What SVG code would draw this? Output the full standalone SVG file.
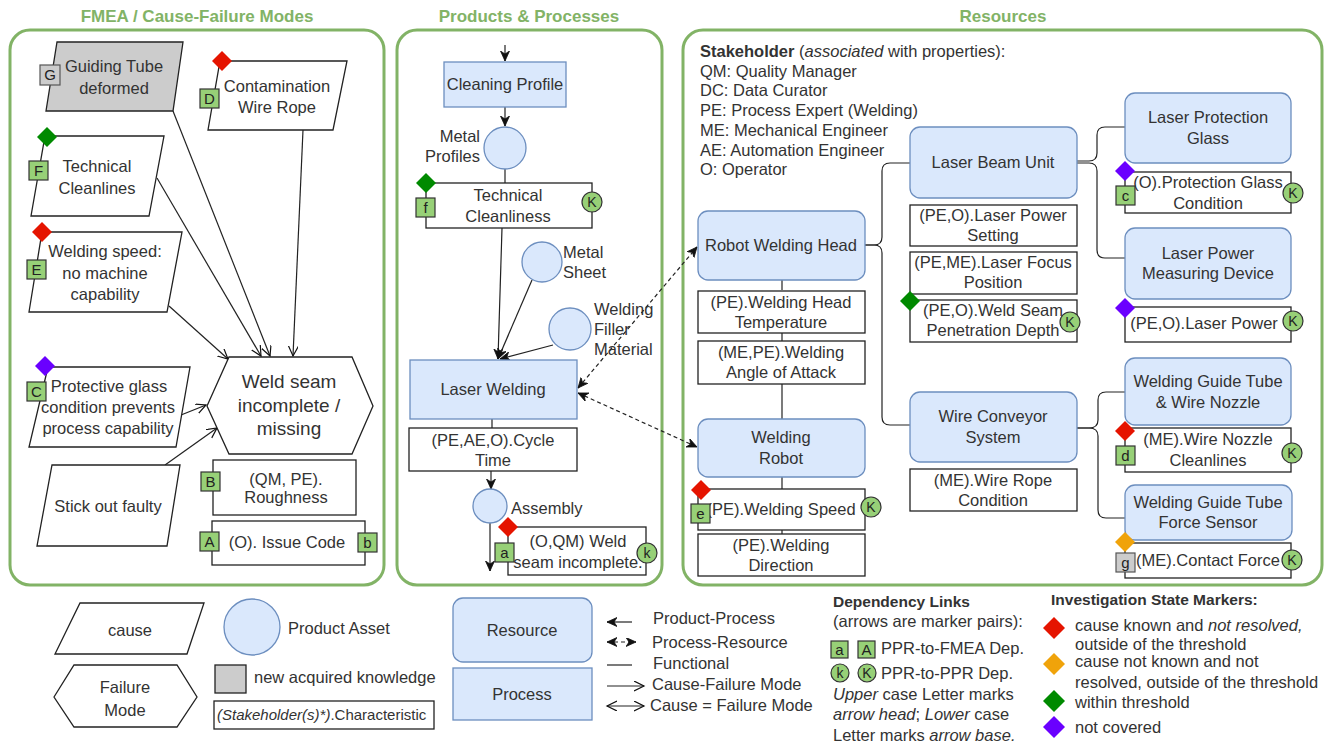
<svg xmlns="http://www.w3.org/2000/svg" width="1336" height="747" viewBox="0 0 1336 747">
<defs>
<style>
text{font-family:"Liberation Sans",Arial,sans-serif;font-size:16.5px;fill:#333}
.c{text-anchor:middle}
.e{text-anchor:end}
.title{font-weight:bold;font-size:17px;fill:#82b366;text-anchor:middle}
.b{font-weight:bold}
.hdr{font-weight:bold;font-size:15.5px}
.i{font-style:italic}
.big{font-size:19px}
.sm{font-size:15px}
.panel{fill:#fff;stroke:#82b366;stroke-width:3}
.res{fill:#dae8fc;stroke:#6c8ebf;stroke-width:1.3}
.box{fill:#fff;stroke:#222;stroke-width:1.3}
.gray{fill:#cccccc;stroke:#222;stroke-width:1.3}
.ln{stroke:#222;fill:none;stroke-width:1.2}
.dash{stroke-dasharray:4 3}
.sq{fill:#97d077;stroke:#333;stroke-width:1.2}
.gsq{fill:#cccccc;stroke:#555;stroke-width:1.2}
.lt{font-size:15px;text-anchor:middle;fill:#222}
.red{fill:#e51400}
.org{fill:#f0a30a}
.grn{fill:#008a00}
.pur{fill:#6a00ff}
</style>
<marker id="af" markerUnits="userSpaceOnUse" markerWidth="12" markerHeight="10" refX="10" refY="4.5" orient="auto-start-reverse"><path d="M0,0 L10,4.5 L0,9 L3,4.5 Z" fill="#111" stroke="#111" stroke-width="0.8"/></marker>
<marker id="ao" markerUnits="userSpaceOnUse" markerWidth="12" markerHeight="12" refX="10" refY="5" orient="auto-start-reverse"><path d="M0,0 L10,5 L0,10" fill="none" stroke="#111" stroke-width="1.2"/></marker>
<path id="dia" d="M0,-10 L10,0 L0,10 L-10,0 Z"/>
<path id="diaL" d="M0,-11 L11,0 L0,11 L-11,0 Z"/>
</defs>
<rect width="1336" height="747" fill="#fff"/>

<g id="panels">
<rect class="panel" x="10" y="30" width="374" height="555" rx="20"/>
<rect class="panel" x="397" y="30" width="265" height="555" rx="20"/>
<rect class="panel" x="683" y="30" width="639" height="555" rx="20"/>
<text class="title" x="197" y="22">FMEA / Cause-Failure Modes</text>
<text class="title" x="529" y="22">Products &amp; Processes</text>
<text class="title" x="1003" y="22">Resources</text>
</g>

<g id="connectors">
<line class="ln" x1="173" y1="111" x2="270" y2="356" marker-end="url(#ao)"/>
<line class="ln" x1="157" y1="178" x2="261" y2="356" marker-end="url(#ao)"/>
<line class="ln" x1="303" y1="130" x2="293" y2="356" marker-end="url(#ao)"/>
<line class="ln" x1="169" y1="306" x2="228" y2="359" marker-end="url(#ao)"/>
<line class="ln" x1="181" y1="415" x2="206" y2="405" marker-end="url(#ao)"/>
<line class="ln" x1="165" y1="465" x2="217" y2="428" marker-end="url(#ao)"/>
<line class="ln" x1="505" y1="45" x2="505" y2="61" marker-end="url(#af)"/>
<line class="ln" x1="505" y1="107" x2="505" y2="126" marker-end="url(#af)"/>
<line class="ln" x1="505" y1="169" x2="505" y2="183"/>
<line class="ln" x1="502" y1="228" x2="498" y2="359" marker-end="url(#af)"/>
<line class="ln" x1="532" y1="280" x2="498" y2="359" marker-end="url(#af)"/>
<line class="ln" x1="553" y1="345" x2="500" y2="359" marker-end="url(#af)"/>
<line class="ln" x1="492" y1="419" x2="492" y2="428"/>
<line class="ln" x1="491" y1="471" x2="491" y2="489" marker-end="url(#af)"/>
<line class="ln" x1="490" y1="523" x2="490" y2="571" marker-end="url(#af)"/>
<line class="ln dash" x1="578" y1="388" x2="697" y2="247" marker-start="url(#af)" marker-end="url(#af)"/>
<line class="ln dash" x1="578" y1="393" x2="697" y2="447" marker-start="url(#af)" marker-end="url(#af)"/>
<line class="ln" x1="782" y1="280" x2="782" y2="290"/>
<line class="ln" x1="782" y1="333" x2="782" y2="341"/>
<line class="ln" x1="782" y1="384" x2="782" y2="419"/>
<line class="ln" x1="782" y1="477" x2="782" y2="489"/>
<line class="ln" x1="782" y1="530" x2="782" y2="534"/>
<path class="ln" d="M865,245 H874 Q882,245 882,237 V171 Q882,163 890,163 H910"/>
<path class="ln" d="M865,245 H874 Q882,245 882,253 V417 Q882,425 890,425 H910"/>
<path class="ln" d="M1077,161 H1089 Q1097,161 1097,153 V135 Q1097,127 1105,127 H1125"/>
<path class="ln" d="M1077,163 H1089 Q1097,163 1097,171 V250 Q1097,258 1105,258 H1125"/>
<path class="ln" d="M1077,428 H1089 Q1098,428 1098,420 V400 Q1098,392 1106,392 H1125"/>
<path class="ln" d="M1077,428 H1089 Q1098,428 1098,436 V510 Q1098,518 1106,518 H1125"/>
</g>

<g id="fmea-guiding-tube">
<polygon class="gray" points="57,42 183,42 173,111 46,111"/>
<text class="c" x="114" y="72">Guiding Tube</text>
<text class="c" x="114" y="94">deformed</text>
<rect class="gsq" x="40" y="65" width="20" height="20"/><text class="lt" x="50" y="80">G</text>
</g>
<g id="fmea-contamination">
<polygon class="box" points="220,61 347,61 333,130 208,130"/>
<text class="c" x="277" y="92">Contamination</text>
<text class="c" x="277" y="113">Wire Rope</text>
<use href="#dia" x="222" y="61" class="red"/>
<rect class="sq" x="200" y="89" width="19" height="19"/><text class="lt" x="209.5" y="104">D</text>
</g>
<g id="fmea-tech-cleanlines">
<polygon class="box" points="45,136 164,136 149,216 31,216"/>
<text class="c" x="97" y="172">Technical</text>
<text class="c" x="97" y="194">Cleanlines</text>
<use href="#dia" x="47" y="137" class="grn"/>
<rect class="sq" x="29" y="161" width="19" height="19"/><text class="lt" x="38.5" y="176">F</text>
</g>
<g id="fmea-welding-speed">
<polygon class="box" points="42,232 182,232 167,312 29,312"/>
<text class="c" x="105" y="257">Welding speed:</text>
<text class="c" x="105" y="279">no machine</text>
<text class="c" x="105" y="300">capability</text>
<use href="#dia" x="42" y="232" class="red"/>
<rect class="sq" x="27" y="260" width="19" height="19"/><text class="lt" x="36.5" y="275">E</text>
</g>
<g id="fmea-protective-glass">
<polygon class="box" points="48,367 190,367 176,447 29,447"/>
<text class="c" x="109" y="392">Protective glass</text>
<text class="c" x="108" y="413">condition prevents</text>
<text class="c" x="108" y="434">process capability</text>
<use href="#dia" x="45" y="366" class="pur"/>
<rect class="sq" x="27" y="382" width="19" height="19"/><text class="lt" x="36.5" y="397">C</text>
</g>
<g id="fmea-stick-out">
<polygon class="box" points="52,465 180,465 167,546 37,546"/>
<text class="c" x="108" y="512">Stick out faulty</text>
</g>
<g id="fmea-weld-seam">
<polygon class="box" points="207,406 229,357 352,357 373,406 352,454 229,454"/>
<text class="c big" x="289" y="388">Weld seam</text>
<text class="c big" x="289" y="412">incomplete /</text>
<text class="c big" x="289" y="435">missing</text>
</g>
<g id="fmea-roughness">
<rect class="box" x="213" y="460" width="143" height="55"/>
<text class="c" x="286" y="485">(QM, PE).</text>
<text class="c" x="286" y="503">Roughness</text>
<rect class="sq" x="201" y="472" width="19" height="19"/><text class="lt" x="210.5" y="487">B</text>
</g>
<g id="fmea-issue-code">
<rect class="box" x="212" y="521" width="153" height="44"/>
<text class="c" x="287" y="548">(O). Issue Code</text>
<rect class="sq" x="200" y="532" width="19" height="19"/><text class="lt" x="209.5" y="547">A</text>
<rect class="sq" x="358" y="533" width="19" height="19"/><text class="lt" x="367.5" y="548">b</text>
</g>

<g id="pp-cleaning-profile">
<rect class="res" x="444" y="62" width="122" height="45"/>
<text class="c" x="505" y="90">Cleaning Profile</text>
</g>
<g id="pp-metal-profiles">
<circle class="res" cx="505" cy="148" r="21"/>
<text class="e" x="480" y="142">Metal</text>
<text class="e" x="480" y="162">Profiles</text>
</g>
<g id="pp-tech-cleanliness">
<rect class="box" x="426" y="183" width="166" height="45"/>
<text class="c" x="508" y="201">Technical</text>
<text class="c" x="508" y="222">Cleanliness</text>
<use href="#dia" x="426" y="183" class="grn"/>
<rect class="sq" x="416" y="198" width="19" height="19"/><text class="lt" x="425.5" y="213">f</text>
<circle class="sq" cx="592" cy="202" r="10"/><text class="lt" x="592" y="207" style="font-size:14px">K</text>
</g>
<g id="pp-metal-sheet">
<circle class="res" cx="542" cy="262" r="20"/>
<text x="563" y="258">Metal</text>
<text x="563" y="278">Sheet</text>
</g>
<g id="pp-filler">
<circle class="res" cx="570" cy="329" r="21"/>
<text x="594" y="315">Welding</text>
<text x="594" y="335">Filler</text>
<text x="594" y="355">Material</text>
</g>
<g id="pp-laser-welding">
<rect class="res" x="410" y="360" width="167" height="59"/>
<text class="c" x="493" y="395">Laser Welding</text>
</g>
<g id="pp-cycle-time">
<rect class="box" x="409" y="428" width="168" height="43"/>
<text class="c" x="493" y="446">(PE,AE,O).Cycle</text>
<text class="c" x="493" y="466">Time</text>
</g>
<g id="pp-assembly">
<circle class="res" cx="490" cy="506" r="17"/>
<text x="511" y="514">Assembly</text>
</g>
<g id="pp-weld-seam-incomplete">
<rect class="box" x="508" y="527" width="138" height="48"/>
<text class="c" x="578" y="547">(O,QM) Weld</text>
<text class="c" x="578" y="568">seam incomplete.</text>
<use href="#dia" x="508" y="527" class="red"/>
<rect class="sq" x="495" y="543" width="19" height="19"/><text class="lt" x="504.5" y="558">a</text>
<circle class="sq" cx="647" cy="553" r="10"/><text class="lt" x="647" y="558" style="font-size:14px">k</text>
</g>

<g id="stakeholders">
<text x="700" y="57"><tspan class="b">Stakeholder</tspan> (<tspan class="i">associated</tspan> with properties):</text>
<text x="700" y="77">QM: Quality Manager</text>
<text x="700" y="96">DC: Data Curator</text>
<text x="700" y="116">PE: Process Expert (Welding)</text>
<text x="700" y="136">ME: Mechanical Engineer</text>
<text x="700" y="156">AE: Automation Engineer</text>
<text x="700" y="175">O: Operator</text>
</g>

<g id="r-robot-welding-head">
<rect class="res" x="698" y="211" width="167" height="69" rx="10"/>
<text class="c" x="781" y="251">Robot Welding Head</text>
</g>
<g id="r-head-temp">
<rect class="box" x="698" y="291" width="167" height="42"/>
<text class="c" x="781" y="308">(PE).Welding Head</text>
<text class="c" x="781" y="328">Temperature</text>
</g>
<g id="r-angle">
<rect class="box" x="698" y="341" width="167" height="43"/>
<text class="c" x="781" y="358">(ME,PE).Welding</text>
<text class="c" x="781" y="378">Angle of Attack</text>
</g>
<g id="r-welding-robot">
<rect class="res" x="698" y="419" width="167" height="58" rx="10"/>
<text class="c" x="781" y="443">Welding</text>
<text class="c" x="781" y="464">Robot</text>
</g>
<g id="r-welding-speed">
<rect class="box" x="698" y="489" width="167" height="41"/>
<text class="c" x="781" y="515">(PE).Welding Speed</text>
<use href="#dia" x="701" y="490" class="red"/>
<rect class="sq" x="691" y="504" width="19" height="19"/><text class="lt" x="700.5" y="519">e</text>
<circle class="sq" cx="871" cy="507" r="10"/><text class="lt" x="871" y="512" style="font-size:14px">K</text>
</g>
<g id="r-welding-direction">
<rect class="box" x="698" y="534" width="167" height="42"/>
<text class="c" x="781" y="551">(PE).Welding</text>
<text class="c" x="781" y="571">Direction</text>
</g>

<g id="r-laser-beam-unit">
<rect class="res" x="910" y="127" width="167" height="71" rx="10"/>
<text class="c" x="993" y="168">Laser Beam Unit</text>
</g>
<g id="r-laser-power-setting">
<rect class="box" x="910" y="205" width="167" height="41"/>
<text class="c" x="993" y="221">(PE,O).Laser Power</text>
<text class="c" x="993" y="241">Setting</text>
</g>
<g id="r-laser-focus">
<rect class="box" x="910" y="252" width="167" height="42"/>
<text class="c" x="993" y="268">(PE,ME).Laser Focus</text>
<text class="c" x="993" y="288">Position</text>
</g>
<g id="r-penetration">
<rect class="box" x="910" y="300" width="167" height="42"/>
<text class="c" x="993" y="316">(PE,O).Weld Seam</text>
<text class="c" x="993" y="336">Penetration Depth</text>
<use href="#dia" x="910" y="301" class="grn"/>
<circle class="sq" cx="1070" cy="322" r="10"/><text class="lt" x="1070" y="327" style="font-size:14px">K</text>
</g>
<g id="r-wire-conveyor">
<rect class="res" x="910" y="392" width="167" height="70" rx="10"/>
<text class="c" x="993" y="422">Wire Conveyor</text>
<text class="c" x="993" y="443">System</text>
</g>
<g id="r-wire-rope">
<rect class="box" x="910" y="469" width="167" height="42"/>
<text class="c" x="993" y="486">(ME).Wire Rope</text>
<text class="c" x="993" y="506">Condition</text>
</g>

<g id="r-protection-glass">
<rect class="res" x="1125" y="93" width="166" height="70" rx="10"/>
<text class="c" x="1208" y="123">Laser Protection</text>
<text class="c" x="1208" y="144">Glass</text>
</g>
<g id="r-protection-glass-condition">
<rect class="box" x="1125" y="172" width="166" height="41"/>
<text class="c" x="1208" y="188">(O).Protection Glass</text>
<text class="c" x="1208" y="209">Condition</text>
<use href="#dia" x="1125" y="171" class="pur"/>
<rect class="sq" x="1116" y="186" width="19" height="19"/><text class="lt" x="1125.5" y="201">c</text>
<circle class="sq" cx="1293" cy="193" r="10"/><text class="lt" x="1293" y="198" style="font-size:14px">K</text>
</g>
<g id="r-power-measuring">
<rect class="res" x="1125" y="228" width="166" height="71" rx="10"/>
<text class="c" x="1208" y="259">Laser Power</text>
<text class="c" x="1208" y="279">Measuring Device</text>
</g>
<g id="r-laser-power">
<rect class="box" x="1125" y="307" width="166" height="35"/>
<text class="c" x="1204" y="329">(PE,O).Laser Power</text>
<use href="#dia" x="1125" y="308" class="pur"/>
<circle class="sq" cx="1293" cy="321" r="10"/><text class="lt" x="1293" y="326" style="font-size:14px">K</text>
</g>
<g id="r-guide-tube-nozzle">
<rect class="res" x="1125" y="358" width="166" height="67" rx="10"/>
<text class="c" x="1208" y="387">Welding Guide Tube</text>
<text class="c" x="1208" y="408">&amp; Wire Nozzle</text>
</g>
<g id="r-nozzle-cleanlines">
<rect class="box" x="1125" y="428" width="166" height="44"/>
<text class="c" x="1208" y="445">(ME).Wire Nozzle</text>
<text class="c" x="1208" y="466">Cleanlines</text>
<use href="#dia" x="1125" y="431" class="red"/>
<rect class="sq" x="1116" y="446" width="19" height="19"/><text class="lt" x="1125.5" y="461">d</text>
<circle class="sq" cx="1292" cy="453" r="10"/><text class="lt" x="1292" y="458" style="font-size:14px">K</text>
</g>
<g id="r-force-sensor">
<rect class="res" x="1125" y="485" width="167" height="55" rx="10"/>
<text class="c" x="1208" y="508">Welding Guide Tube</text>
<text class="c" x="1208" y="528">Force Sensor</text>
</g>
<g id="r-contact-force">
<rect class="box" x="1125" y="543" width="166" height="35"/>
<text class="c" x="1208" y="566">(ME).Contact Force</text>
<use href="#dia" x="1125" y="542" class="org"/>
<rect class="gsq" x="1116" y="553" width="19" height="19"/><text class="lt" x="1125.5" y="568">g</text>
<circle class="sq" cx="1292" cy="560" r="10"/><text class="lt" x="1292" y="565" style="font-size:14px">K</text>
</g>

<g id="legend">
<polygon class="box" points="80,603 204,603 187,654 55,654"/>
<text class="c" x="130" y="636">cause</text>
<polygon class="box" points="54,697 74,665 177,665 197,697 177,727 74,727"/>
<text class="c" x="125" y="693">Failure</text>
<text class="c" x="125" y="716">Mode</text>
<circle class="res" cx="252" cy="627" r="28"/>
<text x="288" y="634">Product Asset</text>
<rect class="gray" x="215" y="665" width="31" height="28"/>
<text x="254" y="683">new acquired knowledge</text>
<rect class="box" x="214" y="701" width="220" height="28"/>
<text class="sm" x="217" y="720"><tspan class="i">(Stakeholder(s)*)</tspan>.Characteristic</text>

<rect class="res" x="453" y="598" width="139" height="64" rx="10"/>
<text class="c" x="522" y="636">Resource</text>
<rect class="res" x="453" y="668" width="139" height="52"/>
<text class="c" x="522" y="700">Process</text>

<line class="ln" x1="632" y1="622" x2="607" y2="622" marker-end="url(#af)"/>
<text x="653" y="624">Product-Process</text>
<line class="ln dash" x1="607" y1="642" x2="636" y2="642" marker-start="url(#af)" marker-end="url(#af)"/>
<text x="652" y="648">Process-Resource</text>
<line class="ln" x1="607" y1="665" x2="632" y2="665"/>
<text x="653" y="669">Functional</text>
<line class="ln" x1="607" y1="686" x2="644" y2="686" marker-end="url(#ao)"/>
<text x="652" y="690">Cause-Failure Mode</text>
<line class="ln" x1="607" y1="706" x2="644" y2="706" marker-start="url(#ao)" marker-end="url(#ao)"/>
<text x="650" y="711">Cause = Failure Mode</text>

<text class="hdr" x="833" y="607">Dependency Links</text>
<text x="833" y="627">(arrows are marker pairs):</text>
<rect class="sq" x="831" y="641" width="17" height="17"/><text class="lt" x="839.5" y="655">a</text>
<rect class="sq" x="858" y="641" width="17" height="17"/><text class="lt" x="866.5" y="655">A</text>
<text x="881" y="654">PPR-to-FMEA Dep.</text>
<circle class="sq" cx="840" cy="673" r="9"/><text class="lt" x="840" y="678" style="font-size:14px">k</text>
<circle class="sq" cx="867" cy="673" r="9"/><text class="lt" x="867" y="678" style="font-size:14px">K</text>
<text x="881" y="679">PPR-to-PPR Dep.</text>
<text x="833" y="700"><tspan class="i">Upper</tspan> case Letter marks</text>
<text x="833" y="720"><tspan class="i">arrow head</tspan>; <tspan class="i">Lower</tspan> case</text>
<text x="833" y="741">Letter marks <tspan class="i">arrow base.</tspan></text>

<text class="hdr" x="1051" y="605">Investigation State Markers:</text>
<use href="#diaL" x="1054" y="628" class="red"/>
<text x="1075" y="631">cause known and <tspan class="i">not resolved,</tspan></text>
<text x="1075" y="650">outside of the threshold</text>
<use href="#diaL" x="1054" y="664" class="org"/>
<text x="1075" y="667">cause not known and not</text>
<text x="1075" y="688">resolved, outside of the threshold</text>
<use href="#diaL" x="1054" y="701" class="grn"/>
<text x="1075" y="708">within threshold</text>
<use href="#diaL" x="1054" y="727" class="pur"/>
<text x="1075" y="733">not covered</text>
</g>
</svg>
